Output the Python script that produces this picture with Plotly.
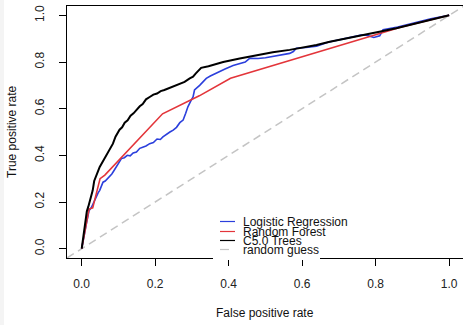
import plotly.graph_objects as go

# ---- data ----
lr_fpr = [0, 0.004, 0.008, 0.013, 0.017, 0.020, 0.026, 0.030, 0.035, 0.040, 0.045, 0.049, 0.053, 0.058,
          0.064, 0.070, 0.076, 0.082, 0.088, 0.094, 0.100, 0.108, 0.116, 0.124, 0.132, 0.140, 0.149,
          0.158, 0.166, 0.175, 0.185, 0.195, 0.205, 0.214, 0.221, 0.230, 0.240, 0.249, 0.258, 0.267,
          0.276, 0.283, 0.289, 0.296, 0.303, 0.307, 0.315, 0.321, 0.330, 0.339, 0.350, 0.362, 0.375,
          0.390, 0.412, 0.430, 0.445, 0.457, 0.480, 0.500, 0.521, 0.545, 0.566, 0.576, 0.584, 0.610,
          0.639, 0.670, 0.702, 0.729, 0.760, 0.775, 0.795, 0.811, 0.820, 0.860, 0.901, 0.950, 1.0]
lr_tpr = [0, 0.04, 0.08, 0.11, 0.14, 0.163, 0.175, 0.19, 0.206, 0.22, 0.24, 0.25, 0.27, 0.285,
          0.29, 0.30, 0.307, 0.32, 0.335, 0.35, 0.365, 0.386, 0.39, 0.40, 0.398, 0.41, 0.414,
          0.43, 0.435, 0.44, 0.45, 0.455, 0.47, 0.468, 0.479, 0.49, 0.50, 0.508, 0.52, 0.54,
          0.551, 0.58, 0.608, 0.63, 0.65, 0.68, 0.69, 0.70, 0.715, 0.73, 0.74, 0.75, 0.759,
          0.77, 0.785, 0.795, 0.80, 0.816, 0.815, 0.818, 0.823, 0.83, 0.837, 0.845, 0.859, 0.862,
          0.868, 0.885, 0.895, 0.905, 0.915, 0.915, 0.905, 0.912, 0.938, 0.950, 0.966, 0.985, 1.0]

rf_fpr = [0, 0.013, 0.020, 0.030, 0.050, 0.063, 0.220, 0.320, 0.405, 0.870, 1.0]
rf_tpr = [0, 0.12, 0.17, 0.175, 0.30, 0.315, 0.578, 0.655, 0.73, 0.95, 1.0]

c5_fpr = [0, 0.003, 0.006, 0.010, 0.014, 0.018, 0.022, 0.026, 0.030, 0.034, 0.038, 0.044, 0.049,
          0.056, 0.062, 0.067, 0.074, 0.080, 0.085, 0.092, 0.098, 0.103, 0.110, 0.117, 0.125, 0.133,
          0.141, 0.149, 0.158, 0.166, 0.175, 0.185, 0.195, 0.205, 0.215, 0.225, 0.240, 0.255, 0.267,
          0.280, 0.294, 0.303, 0.310, 0.318, 0.325, 0.345, 0.385, 0.430, 0.475, 0.520, 0.566, 0.600,
          0.639, 0.675, 0.702, 0.735, 0.765, 0.810, 0.856, 0.900, 0.947, 0.975, 1.0]
c5_tpr = [0, 0.04, 0.08, 0.12, 0.16, 0.18, 0.20, 0.22, 0.25, 0.29, 0.31, 0.33, 0.35,
          0.37, 0.39, 0.40, 0.42, 0.44, 0.45, 0.48, 0.50, 0.51, 0.52, 0.54, 0.55, 0.57,
          0.58, 0.595, 0.61, 0.62, 0.64, 0.65, 0.66, 0.665, 0.675, 0.68, 0.69, 0.70, 0.708,
          0.715, 0.73, 0.737, 0.75, 0.765, 0.775, 0.782, 0.80, 0.815, 0.83, 0.842, 0.852, 0.862,
          0.873, 0.887, 0.895, 0.905, 0.916, 0.930, 0.945, 0.962, 0.981, 0.99, 1.0]

guess_x = [-0.04, 1.04]
guess_y = [-0.04, 1.04]

tick_vals = [0.0, 0.2, 0.4, 0.6, 0.8, 1.0]
tick_text = ["0.0", "0.2", "0.4", "0.6", "0.8", "1.0"]

legend_names = ["Logistic Regression", "Random Forest", "C5.0 Trees", "random guess"]
BLUE = "#2b3fdc"
RED = "#e3353a"
BLACK = "#000000"
GRAY = "#c4c4c4"
legend_colors = [BLUE, RED, BLACK, GRAY]

FONT = "Liberation Sans, Arial, Helvetica, sans-serif"

fig = go.Figure()
fig.add_trace(go.Scatter(x=guess_x, y=guess_y, mode="lines",
                         line=dict(color=GRAY, width=1.5, dash="8px,5px"), name=legend_names[3]))
fig.add_trace(go.Scatter(x=lr_fpr, y=lr_tpr, mode="lines", line=dict(color=BLUE, width=1.6),
                         name=legend_names[0]))
fig.add_trace(go.Scatter(x=rf_fpr, y=rf_tpr, mode="lines", line=dict(color=RED, width=1.6),
                         name=legend_names[1]))
fig.add_trace(go.Scatter(x=c5_fpr, y=c5_tpr, mode="lines", line=dict(color=BLACK, width=2),
                         name=legend_names[2]))

W, H = 463, 325
L, R, T, B = 67, 0, 6, 67
pw, ph = W - L - R, H - T - B


def px_x(p):
    return (p - L) / pw


def px_y(p):
    return (H - B - p) / ph


shapes = [
    # faint left strip of the original image
    dict(type="rect", xref="paper", yref="paper", x0=px_x(0), x1=px_x(4), y0=px_y(H), y1=px_y(0),
         fillcolor="#f4f4f4", line=dict(width=0), layer="below"),
    # legend background (covers the axis line like the original)
    dict(type="rect", xref="paper", yref="paper", x0=px_x(213), x1=px_x(320), y0=px_y(260), y1=px_y(214),
         fillcolor="white", line=dict(width=0), layer="above"),
]
annotations = []
row_y = [221.5, 231.5, 240.5, 249.5]
for name, col, ry in zip(legend_names, legend_colors, row_y):
    shapes.append(dict(type="line", xref="paper", yref="paper", x0=px_x(220), x1=px_x(235),
                       y0=px_y(ry), y1=px_y(ry), layer="above",
                       line=dict(color=col, width=1.2, dash="dash" if name == "random guess" else "solid")))
    annotations.append(dict(text=name, xref="paper", yref="paper", x=px_x(241), y=px_y(ry),
                            xanchor="left", yanchor="middle", showarrow=False,
                            font=dict(family=FONT, size=12, color="#111")))

annotations.append(dict(text="False positive rate", xref="paper", yref="paper", x=0.5, y=px_y(313),
                        xanchor="center", yanchor="middle", showarrow=False,
                        font=dict(family=FONT, size=12, color="#111")))
annotations.append(dict(text="True positive rate", xref="paper", yref="paper", x=px_x(12), y=0.5,
                        xanchor="center", yanchor="middle", showarrow=False, textangle=-90,
                        font=dict(family=FONT, size=12, color="#111")))

axis_common = dict(showgrid=False, zeroline=False, showline=True, mirror=True, linecolor="black",
                   linewidth=1, ticks="outside", ticklen=7, tickcolor="black", tickwidth=1,
                   tickvals=tick_vals, ticktext=tick_text, automargin=False,
                   tickfont=dict(family=FONT, size=12, color="#222"))

fig.update_layout(
    width=W, height=H,
    margin=dict(l=L, r=R, t=T, b=B, pad=0, autoexpand=False),
    paper_bgcolor="white", plot_bgcolor="white",
    showlegend=False,
    xaxis=dict(range=[-0.04, 1.0376], ticklabelstandoff=8, **axis_common),
    yaxis=dict(range=[-0.04, 1.04], tickangle=-90, ticklabelstandoff=10, **axis_common),
    shapes=shapes,
    annotations=annotations,
)

fig.write_html("out.html", config={"displayModeBar": False},
               post_script="document.body.style.margin='0';document.body.style.overflow='hidden';")
